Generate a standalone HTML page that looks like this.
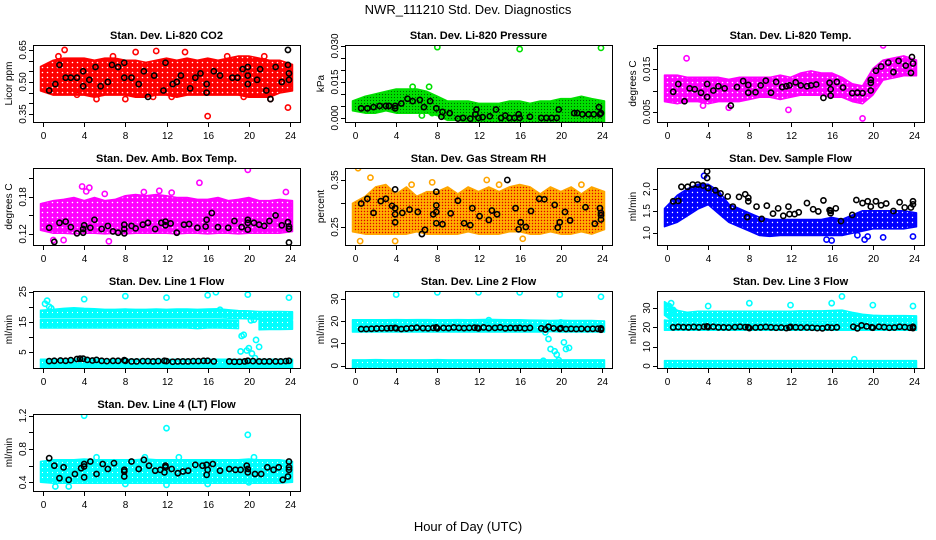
<!DOCTYPE html>
<html><head><meta charset="utf-8">
<style>
html,body{margin:0;padding:0;background:#fff;}
svg{display:block;font-family:"Liberation Sans",Arial,sans-serif;}
</style></head>
<body>
<svg id="chart" width="936" height="540" viewBox="0 0 936 540" xmlns="http://www.w3.org/2000/svg">
<defs>
<pattern id="pat-red" width="5" height="5" patternUnits="userSpaceOnUse"><rect width="5" height="5" fill="#ff0000"/><circle cx="2.5" cy="2.5" r="0.8" fill="#fff"/></pattern>
<pattern id="pat-green" width="3" height="3" patternUnits="userSpaceOnUse"><rect width="3" height="3" fill="#00e000"/><circle cx="1.5" cy="1.5" r="0.6" fill="#006000"/></pattern>
<pattern id="pat-magenta" width="5" height="5" patternUnits="userSpaceOnUse"><rect width="5" height="5" fill="#ff00ff"/><circle cx="2.5" cy="2.5" r="0.8" fill="#fff"/></pattern>
<pattern id="pat-orange" width="3" height="3" patternUnits="userSpaceOnUse"><rect width="3" height="3" fill="#ffb000"/><circle cx="1.5" cy="1.5" r="0.7" fill="#e00000"/></pattern>
<pattern id="pat-blue" width="5" height="5" patternUnits="userSpaceOnUse"><rect width="5" height="5" fill="#0000ff"/><circle cx="2.5" cy="2.5" r="0.7" fill="#fff"/></pattern>
<pattern id="pat-cyan" width="5" height="5" patternUnits="userSpaceOnUse"><rect width="5" height="5" fill="#00ffff"/><circle cx="2.5" cy="2.5" r="0.6" fill="#fff"/></pattern>
</defs>
<text x="468" y="14" text-anchor="middle" font-size="13">NWR_111210  Std. Dev. Diagnostics</text>
<text x="468" y="531" text-anchor="middle" font-size="13">Hour of Day (UTC)</text>
</svg>
<script>
const hours = [0,1,2,3,4,5,6,7,8,9,10,11,12,13,14,15,16,17,18,19,20,21,22,23,24];
const xTicks = [0,4,8,12,16,20,24];

// Panel 1: CO2
const co2Lo = [0.47,0.45,0.45,0.45,0.45,0.44,0.45,0.45,0.45,0.44,0.44,0.45,0.45,0.44,0.45,0.45,0.45,0.45,0.45,0.45,0.44,0.44,0.44,0.46,0.47];
const co2Hi = [0.56,0.59,0.60,0.60,0.60,0.59,0.60,0.60,0.59,0.59,0.58,0.59,0.60,0.59,0.60,0.59,0.60,0.59,0.60,0.61,0.61,0.60,0.59,0.59,0.57];
const co2Out = [[1.5,0.62],[2.1,0.65],[9.0,0.64],[11.0,0.645],[13.8,0.64],[16.0,0.34],[10.7,0.43],[12.5,0.43],[19.5,0.43],[21.5,0.62],[22.1,0.42],[23.8,0.38],[5.2,0.42],[6.8,0.62],[17.9,0.62],[3.3,0.44],[8.0,0.42]];
const co2Black = [[0.6,0.46],[1.2,0.49],[1.6,0.58],[2.2,0.52],[2.7,0.52],[3.3,0.52],[3.9,0.55],[3.9,0.48],[4.5,0.51],[5.1,0.57],[5.6,0.48],[6.3,0.50],[6.7,0.58],[7.3,0.57],[7.9,0.59],[7.9,0.52],[8.6,0.52],[9.3,0.49],[9.8,0.55],[10.2,0.43],[10.8,0.53],[11.7,0.46],[11.9,0.59],[12.6,0.49],[13.0,0.50],[13.4,0.53],[14.3,0.47],[14.8,0.52],[15.3,0.54],[15.9,0.49],[15.9,0.45],[16.6,0.55],[17.2,0.53],[18.4,0.52],[18.9,0.52],[19.4,0.56],[19.9,0.57],[19.9,0.53],[19.9,0.49],[20.8,0.51],[21.1,0.56],[21.7,0.46],[22.1,0.42],[22.6,0.57],[23.2,0.50],[23.8,0.65],[23.8,0.58],[23.9,0.54],[23.9,0.51]];

// Panel 2: Pressure
const prLo = [0.004,0.003,0.003,0.004,0.003,0.003,0.003,0.003,0.002,0.000,0.000,-0.001,-0.001,-0.001,-0.001,-0.001,-0.001,-0.001,-0.001,-0.001,-0.001,-0.001,-0.001,-0.001,-0.001];
const prHi = [0.006,0.008,0.009,0.010,0.011,0.011,0.011,0.010,0.008,0.006,0.006,0.006,0.005,0.005,0.005,0.006,0.006,0.005,0.006,0.006,0.007,0.007,0.008,0.007,0.006];
const prOut = [[5.6,0.013],[7.2,0.013],[8.0,0.0295],[16.0,0.0287],[23.9,0.0292],[6.5,0.001],[7.5,0.002]];
const prBlack = [[0.6,0.004],[1.2,0.004],[1.8,0.0045],[2.4,0.005],[3.0,0.005],[3.3,0.005],[3.9,0.005],[3.9,0.004],[4.5,0.006],[5.1,0.008],[5.6,0.007],[6.3,0.0075],[6.7,0.0045],[7.3,0.007],[7.9,0.004],[8.5,0.0025],[8.4,0.0005],[9.2,0.002],[10.0,-0.0003],[10.5,0],[11.2,-0.0003],[11.8,0.0035],[11.7,0.0015],[12.0,0],[12.4,0.0003],[13.1,0.0007],[13.7,0.0035],[14.2,0],[14.6,0.001],[15.0,0],[15.5,0],[15.9,0.0015],[16.0,0],[17.0,0.0005],[18.1,0],[18.6,0],[19.1,0],[19.6,0],[19.8,0.0035],[21.3,0.002],[21.6,0.002],[22.1,0.0015],[22.7,0.0015],[23.2,0.0015],[23.7,0.0045],[23.8,0.0015],[23.9,0.002]];

// Panel 3: Li-820 Temp
const ltLo = [0.008,0.0075,0.008,0.008,0.0075,0.008,0.008,0.008,0.0085,0.009,0.009,0.0085,0.009,0.0095,0.0095,0.0095,0.009,0.009,0.008,0.0075,0.0095,0.013,0.0135,0.014,0.014];
const ltHi = [0.013,0.013,0.0125,0.0125,0.0125,0.0125,0.012,0.0125,0.0125,0.0125,0.0125,0.013,0.0125,0.0135,0.014,0.0135,0.0135,0.0125,0.011,0.0105,0.0145,0.0165,0.017,0.0175,0.0165];
const ltOut = [[1.9,0.0175],[19.0,0.0035],[21.0,0.0205],[11.8,0.0055],[3.5,0.0065],[6.0,0.006]];
const ltBlack = [[0.6,0.0097],[1.1,0.0115],[1.7,0.0075],[2.2,0.0105],[2.7,0.0103],[3.3,0.0095],[3.9,0.0115],[3.9,0.0085],[4.5,0.01],[5.0,0.011],[5.6,0.0105],[6.2,0.0065],[6.8,0.0108],[7.4,0.0122],[7.9,0.0113],[7.9,0.0095],[8.6,0.0096],[9.1,0.0112],[9.6,0.0123],[10.1,0.0095],[10.6,0.012],[11.2,0.0108],[11.6,0.011],[11.9,0.0112],[12.5,0.0119],[13.0,0.0112],[13.6,0.011],[14.0,0.0112],[14.5,0.0114],[15.2,0.0083],[15.8,0.0118],[15.9,0.0103],[15.9,0.0088],[16.5,0.012],[17.1,0.0107],[18.0,0.0094],[18.5,0.0095],[19.0,0.0094],[19.8,0.0125],[19.8,0.0118],[19.8,0.01],[20.3,0.0146],[20.8,0.0156],[21.5,0.0165],[22.0,0.0143],[22.5,0.0169],[23.2,0.0158],[23.7,0.0141],[23.8,0.0178],[23.9,0.0163]];

// Panel 4: Amb Box Temp
const abLo = [0.13,0.125,0.125,0.124,0.125,0.125,0.124,0.125,0.124,0.125,0.125,0.125,0.125,0.124,0.125,0.125,0.124,0.125,0.125,0.124,0.125,0.125,0.125,0.125,0.128];
const abHi = [0.165,0.17,0.172,0.175,0.17,0.175,0.17,0.172,0.178,0.18,0.178,0.18,0.178,0.175,0.175,0.172,0.172,0.175,0.17,0.172,0.175,0.17,0.17,0.172,0.17];
const abOut = [[3.8,0.197],[4.5,0.195],[4.2,0.189],[12.5,0.187],[15.2,0.203],[19.9,0.224],[23.6,0.188],[9.8,0.188],[11.3,0.19],[6.0,0.185],[6.4,0.108],[1.0,0.11],[2.0,0.11]];
const abBlack = [[0.6,0.13],[1.1,0.107],[1.6,0.138],[2.2,0.14],[2.7,0.131],[3.3,0.121],[3.9,0.122],[3.9,0.128],[4.0,0.134],[4.6,0.13],[5.0,0.143],[5.7,0.128],[6.3,0.133],[6.8,0.124],[7.3,0.122],[7.9,0.135],[7.9,0.128],[7.9,0.121],[8.6,0.133],[9.0,0.129],[9.7,0.135],[10.2,0.138],[10.9,0.128],[11.5,0.138],[11.9,0.14],[11.9,0.134],[12.4,0.137],[13.0,0.122],[13.7,0.135],[14.2,0.136],[15.0,0.13],[15.8,0.132],[15.9,0.143],[16.4,0.154],[17.0,0.131],[18.0,0.13],[18.6,0.141],[19.3,0.131],[19.9,0.143],[19.9,0.138],[19.9,0.127],[20.5,0.138],[21.0,0.135],[21.5,0.133],[22.0,0.141],[22.6,0.15],[23.2,0.134],[23.8,0.139],[23.9,0.132],[23.9,0.128],[23.9,0.106]];

// Panel 5: Gas Stream RH
const rhLo = [0.245,0.24,0.24,0.24,0.24,0.24,0.245,0.24,0.24,0.24,0.24,0.245,0.24,0.24,0.24,0.245,0.245,0.24,0.24,0.245,0.24,0.24,0.245,0.24,0.25];
const rhHi = [0.295,0.31,0.33,0.335,0.315,0.33,0.31,0.32,0.32,0.33,0.315,0.33,0.32,0.33,0.32,0.33,0.335,0.33,0.315,0.33,0.32,0.33,0.315,0.33,0.32];
const rhOut = [[0.3,0.375],[1.5,0.355],[0.5,0.22],[3.9,0.22],[16.3,0.225],[12.8,0.35],[14.0,0.34],[22.0,0.34],[7.5,0.345],[5.5,0.34]];
const rhBlack = [[0.6,0.30],[1.2,0.31],[1.8,0.28],[2.5,0.305],[3.0,0.31],[3.6,0.295],[3.9,0.33],[3.9,0.29],[3.9,0.277],[3.9,0.26],[4.6,0.28],[5.3,0.287],[6.1,0.282],[6.5,0.235],[6.8,0.244],[7.6,0.277],[7.9,0.325],[7.9,0.296],[7.9,0.282],[7.9,0.258],[8.5,0.256],[9.3,0.279],[10.0,0.306],[10.6,0.258],[11.2,0.254],[11.4,0.29],[12.1,0.273],[13.0,0.265],[13.3,0.285],[13.8,0.277],[14.8,0.35],[15.6,0.29],[15.9,0.245],[16.1,0.26],[16.6,0.25],[17.1,0.284],[17.9,0.31],[18.4,0.309],[19.4,0.297],[19.7,0.249],[19.9,0.26],[20.4,0.282],[20.9,0.264],[21.6,0.309],[22.4,0.292],[23.3,0.257],[23.8,0.29],[23.9,0.275],[23.9,0.28],[23.9,0.266]];

// Panel 6: Sample Flow
const sfLo = [1.2,1.3,1.45,1.6,1.7,1.5,1.3,1.2,1.1,1.0,0.98,1.0,1.0,1.0,1.0,1.0,1.0,1.0,1.05,1.1,1.15,1.15,1.15,1.15,1.2];
const sfHi = [1.5,1.8,1.95,2.05,2.05,1.9,1.6,1.5,1.4,1.3,1.25,1.25,1.25,1.25,1.25,1.25,1.3,1.25,1.35,1.45,1.45,1.45,1.45,1.45,1.4];
const sfOut = [[3.6,2.3],[15.5,0.85],[16.0,0.83],[19.2,0.85],[19.5,0.92],[21.0,0.9],[23.9,0.92],[18.5,0.95]];
const sfBlack = [[0.6,1.72],[1.1,1.73],[1.4,2.05],[2.0,2.05],[2.5,2.1],[3.0,2.1],[3.5,2.08],[3.9,2.4],[3.9,2.25],[4.0,2.02],[4.7,1.97],[5.2,1.9],[5.9,1.83],[6.4,1.6],[7.0,1.82],[7.6,1.88],[7.9,1.8],[7.9,1.72],[7.8,1.36],[8.7,1.6],[9.2,1.32],[9.7,1.62],[10.3,1.44],[10.8,1.56],[11.3,1.39],[11.8,1.6],[11.9,1.43],[12.4,1.43],[12.8,1.47],[13.6,1.68],[14.2,1.54],[14.7,1.49],[15.2,1.74],[15.8,1.52],[15.9,1.5],[15.9,1.45],[16.4,1.56],[16.9,1.27],[18.0,1.41],[18.4,1.75],[19.0,1.68],[19.5,1.72],[19.8,1.6],[20.3,1.72],[20.8,1.63],[21.3,1.67],[22.0,1.5],[22.6,1.7],[23.1,1.58],[23.7,1.58],[23.9,1.72],[23.9,1.65]];

// Panel 7: Line 1 Flow
const l1aLo = [17.2,17.2,17.2,17.2,17.2,17.2,17.2,17.2,17.2,17.2,17.2,17.2,17.2,17.2,17.2,17.2,17.2,17.2,17.0,16.9,16.8,16.7,16.7,16.7,16.7];
const l1aHi = [18.0,18.3,18.6,18.8,18.6,18.5,18.3,18.3,18.4,18.3,18.3,18.4,18.3,18.4,18.4,18.3,18.4,18.5,18.2,17.9,17.8,17.6,17.6,17.6,17.5];
const l1bLo = [13.8,13.8,13.8,13.8,13.8,13.8,13.8,13.8,13.8,13.8,13.8,13.8,13.8,13.8,13.8,13.6,13.8,13.8,13.7,13.6,null,13.2,13.3,13.3,13.4];
const l1bHi = [14.9,14.9,14.9,14.9,14.9,14.9,14.9,14.9,14.9,14.9,14.9,14.9,14.9,14.9,14.9,14.9,14.9,14.9,14.8,14.7,null,14.6,14.6,14.6,14.5];
const l1cLo = [0.6,0.6,0.6,0.6,0.6,0.6,0.6,0.6,0.6,0.6,0.6,0.6,0.6,0.6,0.6,0.6,0.6,0.6,0.6,0.6,0.6,0.6,0.6,0.6,0.6];
const l1cHi = [1.8,1.8,1.8,1.8,2.2,1.8,1.8,1.8,1.8,1.8,1.8,1.8,1.8,1.8,1.8,1.8,1.8,1.8,1.8,1.8,1.8,1.8,1.8,1.8,1.8];
const l1Out = [[0.2,21],[0.4,22],[0.6,20],[0.8,19.5],[4,22.5],[8,23.5],[12,23],[16,23.8],[16.8,24.8],[19.9,24],[23.9,23],[19.3,10.3],[19.5,10.7],[19.2,5.2],[19.8,5.5],[20.0,6.3],[20.3,4.5],[20.6,3],[20.7,9],[21.0,6.7],[20.2,15.5],[20.5,15.7],[21.0,16.7],[17.2,19]];
const l1Black = [[0.6,2.0],[1.1,2.1],[1.7,2.2],[2.2,2.1],[2.7,2.3],[3.3,2.7],[3.6,2.8],[3.9,2.8],[4.3,2.4],[4.8,2.2],[5.2,2.4],[5.7,2.1],[6.2,2.0],[6.8,2.1],[7.3,2.1],[7.9,2.3],[8.0,2.1],[8.6,1.9],[9.1,1.9],[9.7,2.0],[10.2,2.0],[10.7,1.9],[11.2,2.0],[11.8,2.1],[12.0,2.0],[12.6,1.8],[13.1,1.9],[13.6,1.9],[14.1,1.9],[14.6,2.0],[15.1,2.0],[15.6,2.1],[16.0,2.1],[16.6,1.9],[18.1,1.9],[18.6,1.8],[19.1,1.8],[19.6,1.9],[19.9,2.1],[20.4,2.0],[21.0,1.9],[21.5,1.9],[22.0,1.9],[22.6,1.9],[23.1,1.9],[23.6,2.0],[23.9,2.1]];

// Panel 8: Line 2 Flow
const l2aLo = [16.3,16.3,16.3,16.3,16.3,16.3,16.3,16.3,16.3,16.3,16.3,16.3,16.3,16.3,16.3,16.3,16.3,16.3,16.3,16.5,16.3,16.3,16.3,16.3,16.3];
const l2aHi = [19.5,19.5,19.5,19.5,19.6,19.5,19.6,19.6,19.5,19.5,19.6,19.5,19.6,19.7,19.6,19.5,19.5,19.4,19.3,19.2,19.3,19.2,19.2,19.2,19.0];
const l2cLo = [0,0,0,0,0,0,0,0,0,0,0,0,0,0,0,0,0,0,0,0,0,0,0,0,0];
const l2cHi = [1.5,1.5,1.6,1.5,1.5,1.5,1.5,1.5,1.6,1.5,1.5,1.5,1.5,1.5,1.5,1.5,1.5,1.5,1.5,1.5,1.5,1.5,1.5,1.5,1.5];
const l2Out = [[4,32],[8,33],[12,33],[16,33],[19.9,32],[23.9,31],[18.5,15],[18.8,12],[19.0,7.5],[19.4,6.5],[19.6,5],[19.8,2.5],[20.3,10.5],[20.5,7.5],[20.8,8],[20.0,19.5],[13.0,20.5],[18.3,2.2]];
const l2Black = [[0.6,16.5],[1.1,16.5],[1.6,16.6],[2.1,16.7],[2.6,16.8],[3.1,16.8],[3.5,16.9],[3.9,17.0],[4.0,16.8],[4.5,16.5],[5.0,16.7],[5.5,16.9],[6.0,17.1],[6.6,16.9],[7.1,16.8],[7.6,17.0],[7.9,17.2],[8.0,16.8],[8.6,17.0],[9.1,16.9],[9.6,17.2],[10.1,17.0],[10.6,16.9],[11.1,17.0],[11.6,17.1],[11.9,17.0],[12.0,16.8],[12.5,17.2],[13.0,16.9],[13.6,17.0],[14.1,17.2],[14.6,16.8],[15.1,17.0],[15.6,16.9],[16.0,17.0],[16.5,16.8],[17.0,17.0],[18.1,16.8],[18.5,16.3],[18.8,17.5],[19.3,16.8],[19.9,16.6],[20.0,16.9],[20.5,16.5],[21.0,16.6],[21.5,16.5],[22.0,16.6],[22.6,16.5],[23.1,16.6],[23.6,16.6],[23.9,16.2],[23.9,16.8]];

// Panel 9: Line 3 Flow
const l3aLo = [27.5,22.5,22.5,24.8,25.0,25.0,25.0,25.0,25.0,25.0,25.0,25.0,25.0,25.2,25.2,25.2,25.2,25.0,24.2,23.5,22.8,22.6,22.6,22.6,22.6];
const l3aHi = [32.0,27.5,26.5,27.0,27.0,27.0,27.0,27.0,27.0,27.0,27.0,27.0,27.0,27.2,27.2,27.2,27.4,27.6,26.5,25.5,25.0,24.8,24.8,24.8,24.6];
const l3bLo = [19.8,19.8,19.8,19.8,19.8,19.8,19.8,19.8,19.8,19.8,19.8,19.8,19.8,19.8,19.8,19.8,19.8,19.8,19.8,19.8,19.8,19.8,19.8,19.8,19.8];
const l3bHi = [22.5,21.8,21.8,21.8,21.8,21.8,21.8,21.8,21.8,21.8,21.8,21.8,21.8,21.8,21.8,21.8,21.8,21.8,21.8,21.8,21.8,21.8,21.8,21.8,21.8];
const l3cLo = [0,0,0,0,0,0,0,0,0,0,0,0,0,0,0,0,0,0,0,0,0,0,0,0,0];
const l3cHi = [1.5,1.5,1.5,1.5,1.5,1.5,1.5,1.5,1.5,1.5,1.5,1.5,1.5,1.5,1.5,1.5,1.5,1.5,1.5,1.5,1.5,1.5,1.5,1.5,1.5];
const l3Out = [[0.2,31],[0.4,32.5],[0.6,29],[0.9,27.5],[4,31],[8,32.5],[12,31.5],[16,32.5],[17,36],[20,31.5],[23.9,31],[18.2,3.5]];
const l3Black = [[0.6,20],[1.1,20.2],[1.6,20.1],[2.1,20],[2.6,20.2],[3.1,20],[3.6,20.3],[3.9,20.5],[4.0,20.1],[4.5,20.3],[5.0,20],[5.5,20],[6.0,19.9],[6.6,20.1],[7.1,20.3],[7.6,20.1],[7.9,20],[8.0,19.6],[8.6,19.9],[9.1,20],[9.6,20.2],[10.1,20],[10.6,19.8],[11.1,19.9],[11.6,19.6],[11.9,19.9],[12.0,20.2],[12.5,20],[13.0,19.9],[13.6,19.9],[14.1,19.8],[14.6,19.6],[15.1,19.5],[15.6,20],[16.0,19.8],[16.5,20],[18.1,20.3],[18.5,19.5],[18.9,21],[19.4,20.5],[19.9,20],[20.0,19.8],[20.6,20.3],[21.1,20.1],[21.6,19.8],[22.1,19.9],[22.6,20.3],[23.1,20.1],[23.6,19.8],[23.9,20.3],[23.9,19.6]];

// Panel 10: Line 4 (LT) Flow
const l4Lo = [0.43,0.42,0.42,0.42,0.42,0.42,0.42,0.42,0.42,0.42,0.42,0.42,0.42,0.42,0.42,0.42,0.42,0.42,0.42,0.42,0.42,0.42,0.42,0.42,0.43];
const l4Hi = [0.62,0.64,0.64,0.64,0.65,0.64,0.64,0.64,0.64,0.64,0.65,0.64,0.64,0.64,0.64,0.64,0.64,0.64,0.64,0.64,0.65,0.64,0.64,0.64,0.62];
const l4Out = [[4,1.2],[12,1.05],[19.9,0.97],[1.2,0.35],[2.5,0.35],[8,0.38],[12,0.37],[16,0.38],[20,0.4],[9.9,0.7],[5.2,0.7],[13.2,0.7],[20.5,0.7]];
const l4Black = [[0.6,0.69],[1.1,0.6],[1.6,0.45],[2.0,0.58],[2.5,0.43],[3.1,0.5],[3.7,0.57],[4.0,0.62],[4.0,0.59],[4.0,0.46],[4.6,0.65],[5.2,0.5],[5.8,0.62],[6.3,0.56],[6.9,0.63],[7.9,0.53],[7.9,0.55],[7.9,0.47],[8.6,0.65],[9.3,0.56],[9.8,0.67],[10.3,0.6],[10.9,0.54],[11.4,0.55],[11.8,0.52],[11.9,0.58],[11.9,0.6],[12.5,0.56],[13.1,0.51],[13.6,0.53],[14.1,0.54],[14.8,0.61],[15.5,0.6],[15.9,0.61],[15.9,0.49],[16.0,0.55],[16.5,0.62],[17.2,0.54],[18.1,0.56],[18.7,0.55],[19.2,0.55],[19.8,0.6],[19.9,0.52],[19.9,0.56],[20.6,0.5],[21.2,0.5],[21.8,0.58],[22.4,0.55],[22.9,0.58],[23.3,0.43],[23.8,0.47],[23.9,0.55],[23.9,0.58],[23.9,0.65]];

const NS = 'http://www.w3.org/2000/svg';
const svg = document.getElementById('chart');
function mk(tag, attrs, parent) {
  const e = document.createElementNS(NS, tag);
  for (const k in attrs) e.setAttribute(k, attrs[k]);
  parent.appendChild(e);
  return e;
}

const panels = [
  {key:'co2', title:'Stan. Dev. Li-820 CO2', ylab:'Licor ppm', col:0,row:0, min:0.3125,max:0.673, ticks:[0.35,0.40,0.45,0.50,0.55,0.60,0.65], labels:['0.35','0.50','0.65'], lvals:[0.35,0.50,0.65],
   color:'#ff0000', pat:'pat-red', bands:[[co2Lo,co2Hi]], out:co2Out, black:co2Black},
  {key:'pressure', title:'Stan. Dev. Li-820 Pressure', ylab:'kPa', col:1,row:0, min:-0.0017,max:0.0304, ticks:[0,0.005,0.010,0.015,0.020,0.025,0.030], labels:['0.000','0.015','0.030'], lvals:[0,0.015,0.030],
   color:'#00e000', pat:'pat-green', bands:[[prLo,prHi]], out:prOut, black:prBlack},
  {key:'li820-temp', title:'Stan. Dev. Li-820 Temp.', ylab:'degrees C', col:2,row:0, min:0.00267,max:0.0206, ticks:[0.005,0.010,0.015,0.020], labels:['0.005','0.015'], lvals:[0.005,0.015],
   color:'#ff00ff', pat:'pat-magenta', bands:[[ltLo,ltHi]], out:ltOut, black:ltBlack},
  {key:'amb-box-temp', title:'Stan. Dev. Amb. Box Temp.', ylab:'degrees C', col:0,row:1, min:0.102,max:0.227, ticks:[0.12,0.15,0.18,0.21], labels:['0.12','0.18'], lvals:[0.12,0.18],
   color:'#ff00ff', pat:'pat-magenta', bands:[[abLo,abHi]], out:abOut, black:abBlack},
  {key:'gas-rh', title:'Stan. Dev. Gas Stream RH', ylab:'percent', col:1,row:1, min:0.2117,max:0.3755, ticks:[0.25,0.30,0.35], labels:['0.25','0.35'], lvals:[0.25,0.35],
   color:'#ffa500', pat:'pat-orange', bands:[[rhLo,rhHi]], out:rhOut, black:rhBlack},
  {key:'sample-flow', title:'Stan. Dev. Sample Flow', ylab:'ml/min', col:2,row:1, min:0.727,max:2.477, ticks:[1.0,1.5,2.0], labels:['1.0','1.5','2.0'], lvals:[1.0,1.5,2.0],
   color:'#0000ff', pat:'pat-blue', bands:[[sfLo,sfHi]], out:sfOut, black:sfBlack},
  {key:'line1', title:'Stan. Dev. Line 1 Flow', ylab:'ml/min', col:0,row:2, min:-0.28,max:25.2, ticks:[5,10,15,20,25], labels:['5','15','25'], lvals:[5,15,25],
   color:'#00ffff', pat:'pat-cyan', bands:[[l1aLo,l1aHi],[l1bLo,l1bHi],[l1cLo,l1cHi]], out:l1Out, black:l1Black},
  {key:'line2', title:'Stan. Dev. Line 2 Flow', ylab:'ml/min', col:1,row:2, min:-1.04,max:33.6, ticks:[0,10,20,30], labels:['0','10','20','30'], lvals:[0,10,20,30],
   color:'#00ffff', pat:'pat-cyan', bands:[[l2aLo,l2aHi],[l2cLo,l2cHi]], out:l2Out, black:l2Black},
  {key:'line3', title:'Stan. Dev. Line 3 Flow', ylab:'ml/min', col:2,row:2, min:-1.04,max:38.8, ticks:[0,10,20,30], labels:['0','10','20','30'], lvals:[0,10,20,30],
   color:'#00ffff', pat:'pat-cyan', bands:[[l3aLo,l3aHi],[l3bLo,l3bHi],[l3cLo,l3cHi]], out:l3Out, black:l3Black},
  {key:'line4', title:'Stan. Dev. Line 4 (LT) Flow', ylab:'ml/min', col:0,row:3, min:0.296,max:1.22, ticks:[0.4,0.6,0.8,1.0,1.2], labels:['0.4','0.8','1.2'], lvals:[0.4,0.8,1.2],
   color:'#00ffff', pat:'pat-cyan', bands:[[l4Lo,l4Hi]], out:l4Out, black:l4Black}
];

const BOX_H = 77;
panels.forEach(p => {
  const x0 = 43 + p.col * 312;
  const pxPerH = 247 / 24;
  const top = 45 + p.row * 123;
  const left = x0 - 10, right = x0 + 257, bottom = top + BOX_H;
  const xs = h => x0 + h * pxPerH;
  const ys = v => top + (p.max - v) / (p.max - p.min) * BOX_H;

  const g = mk('g', {}, svg);
  
  

  const clipId = 'clip-' + p.key;
  const cp = mk('clipPath', {id: clipId}, g);
  mk('rect', {x: left, y: top, width: right - left, height: BOX_H}, cp);
  const plot = mk('g', {'clip-path': 'url(#' + clipId + ')'}, g);

  p.bands.forEach((b) => {
    const lo = b[0], hi = b[1];
    let seg = [];
    const segs = [];
    hours.forEach((h, i) => {
      if (lo[i] === null || hi[i] === null) { if (seg.length) segs.push(seg); seg = []; }
      else seg.push(i);
    });
    if (seg.length) segs.push(seg);
    segs.forEach(sg => {
      const upper = sg.map(i => [xs(hours[i]), ys(hi[i]) - 2.5]);
      const lower = sg.slice().reverse().map(i => [xs(hours[i]), ys(lo[i]) + 2.5]);
      if (sg[0] === 0) { upper[0][0] -= 2.5; lower[lower.length-1][0] -= 2.5; }
      if (sg[sg.length-1] === 24) { upper[upper.length-1][0] += 2.5; lower[0][0] += 2.5; }
      const pts = upper.concat(lower).map(q => q[0].toFixed(1) + ',' + q[1].toFixed(1)).join(' ');
      const poly = mk('polygon', {points: pts, fill: 'url(#' + p.pat + ')', stroke: p.color, 'stroke-width': 1.5, 'stroke-linejoin': 'round'}, plot);
      
      
    });
  });
  p.out.forEach(d => {
    const c = mk('circle', {cx: xs(d[0]), cy: ys(d[1]), r: 2.6, fill: 'none', stroke: p.color, 'stroke-width': 1.6}, plot);
    
    
  });
  p.black.forEach(d => {
    const c = mk('circle', {cx: xs(d[0]), cy: ys(d[1]), r: 2.6, fill: 'none', stroke: '#000', 'stroke-width': 1.6}, plot);
    
    
  });

  const box = mk('rect', {x: left + 0.5, y: top + 0.5, width: right - left, height: BOX_H, fill: 'none', stroke: '#000', 'stroke-width': 1}, g);
  
  

  const xa = mk('g', {}, g);
  
  
  mk('line', {x1: xs(xTicks[0]), x2: xs(xTicks[xTicks.length-1]), y1: bottom + 0.5, y2: bottom + 0.5, stroke: '#000'}, xa);
  xTicks.forEach(t => {
    const x = Math.round(xs(t)) + 0.5;
    mk('line', {x1: x, x2: x, y1: bottom, y2: bottom + 5, stroke: '#000'}, xa);
    const tl = mk('text', {x: x, y: bottom + 17, 'text-anchor': 'middle', 'font-size': 10}, xa);
    tl.textContent = t;
    
    
  });

  const ya = mk('g', {}, g);
  
  
  mk('line', {x1: left + 0.5, x2: left + 0.5, y1: ys(p.ticks[0]), y2: ys(p.ticks[p.ticks.length-1]), stroke: '#000'}, ya);
  p.ticks.forEach(t => {
    const y = Math.round(ys(t)) + 0.5;
    mk('line', {x1: left - 4, x2: left, y1: y, y2: y, stroke: '#000'}, ya);
  });
  p.lvals.forEach((v, i) => {
    const y = ys(v);
    const tl = mk('text', {x: 0, y: 0, 'text-anchor': 'middle', 'font-size': 10, transform: 'translate(' + (left - 7) + ',' + y + ') rotate(-90)'}, ya);
    tl.textContent = p.labels[i];
    
    
  });
  const yt = mk('text', {x: 0, y: 0, 'text-anchor': 'middle', 'font-size': 10, transform: 'translate(' + (left - 21) + ',' + (top + BOX_H / 2) + ') rotate(-90)'}, g);
  yt.textContent = p.ylab;
  
  

  const tt = mk('text', {x: (left + right) / 2, y: top - 6, 'text-anchor': 'middle', 'font-size': 11, 'font-weight': 'bold'}, g);
  tt.textContent = p.title;
  
  
});
</script>
</body></html>
